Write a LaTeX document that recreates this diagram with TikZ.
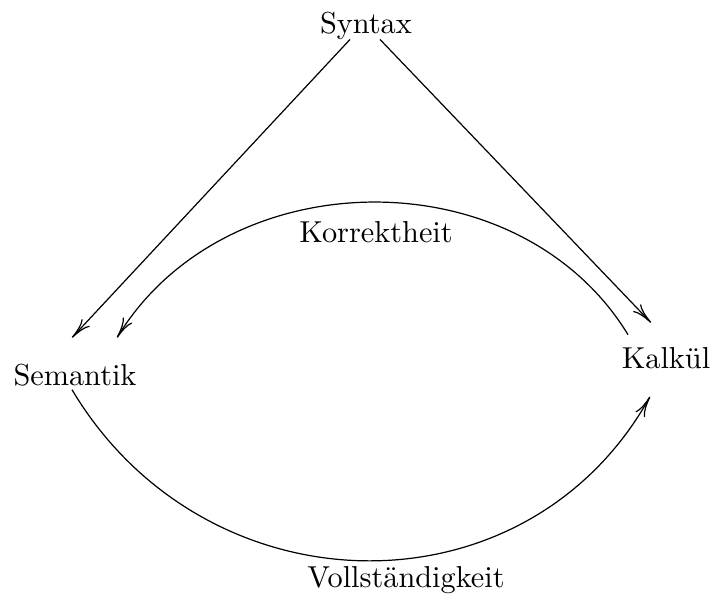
\documentclass[tikz,border=0pt]{standalone}
\usetikzlibrary{arrows.meta,calc}
\begin{document}
\begin{tikzpicture}[x=0.33pt,y=-0.33pt,
  lbl/.style={inner sep=0pt, anchor=base, font=\fontsize{10}{12}\selectfont},
  arr/.style={-{Computer Modern Rightarrow[length=6.8pt,width=3.6pt]}, line width=0.4pt}]
\useasboundingbox (0,0) rectangle (713,597);
\node[lbl] (syn) at (366,33) {Syntax};
\node[lbl] (sem) at (75,385) {Semantik};
\node[lbl] (kal) at (666,368) {Kalkül};
\node[lbl] (kor) at (376,242) {Korrektheit};
\node[lbl] (vol) at (406,587) {Vollständigkeit};
% straight arrows from Syntax
\draw[arr] ($(syn)+(-16,14)$) -- ($(sem)+(-3,-37)$);
\draw[arr] ($(syn)+(14,14)$) -- ($(kal)+(-15,-35)$);
% Korrektheit: Kalkuel -> Semantik
\draw[arr] ($(kal)+(-38,-23)$) .. controls (519,156) and (226,159) .. ($(sem)+(42,-37)$);
% Vollstaendigkeit: Semantik -> Kalkuel
\draw[arr] ($(sem)+(-3,15)$) .. controls (205,613) and (525,620) .. ($(kal)+(-16,39)$);
\end{tikzpicture}
\end{document}
